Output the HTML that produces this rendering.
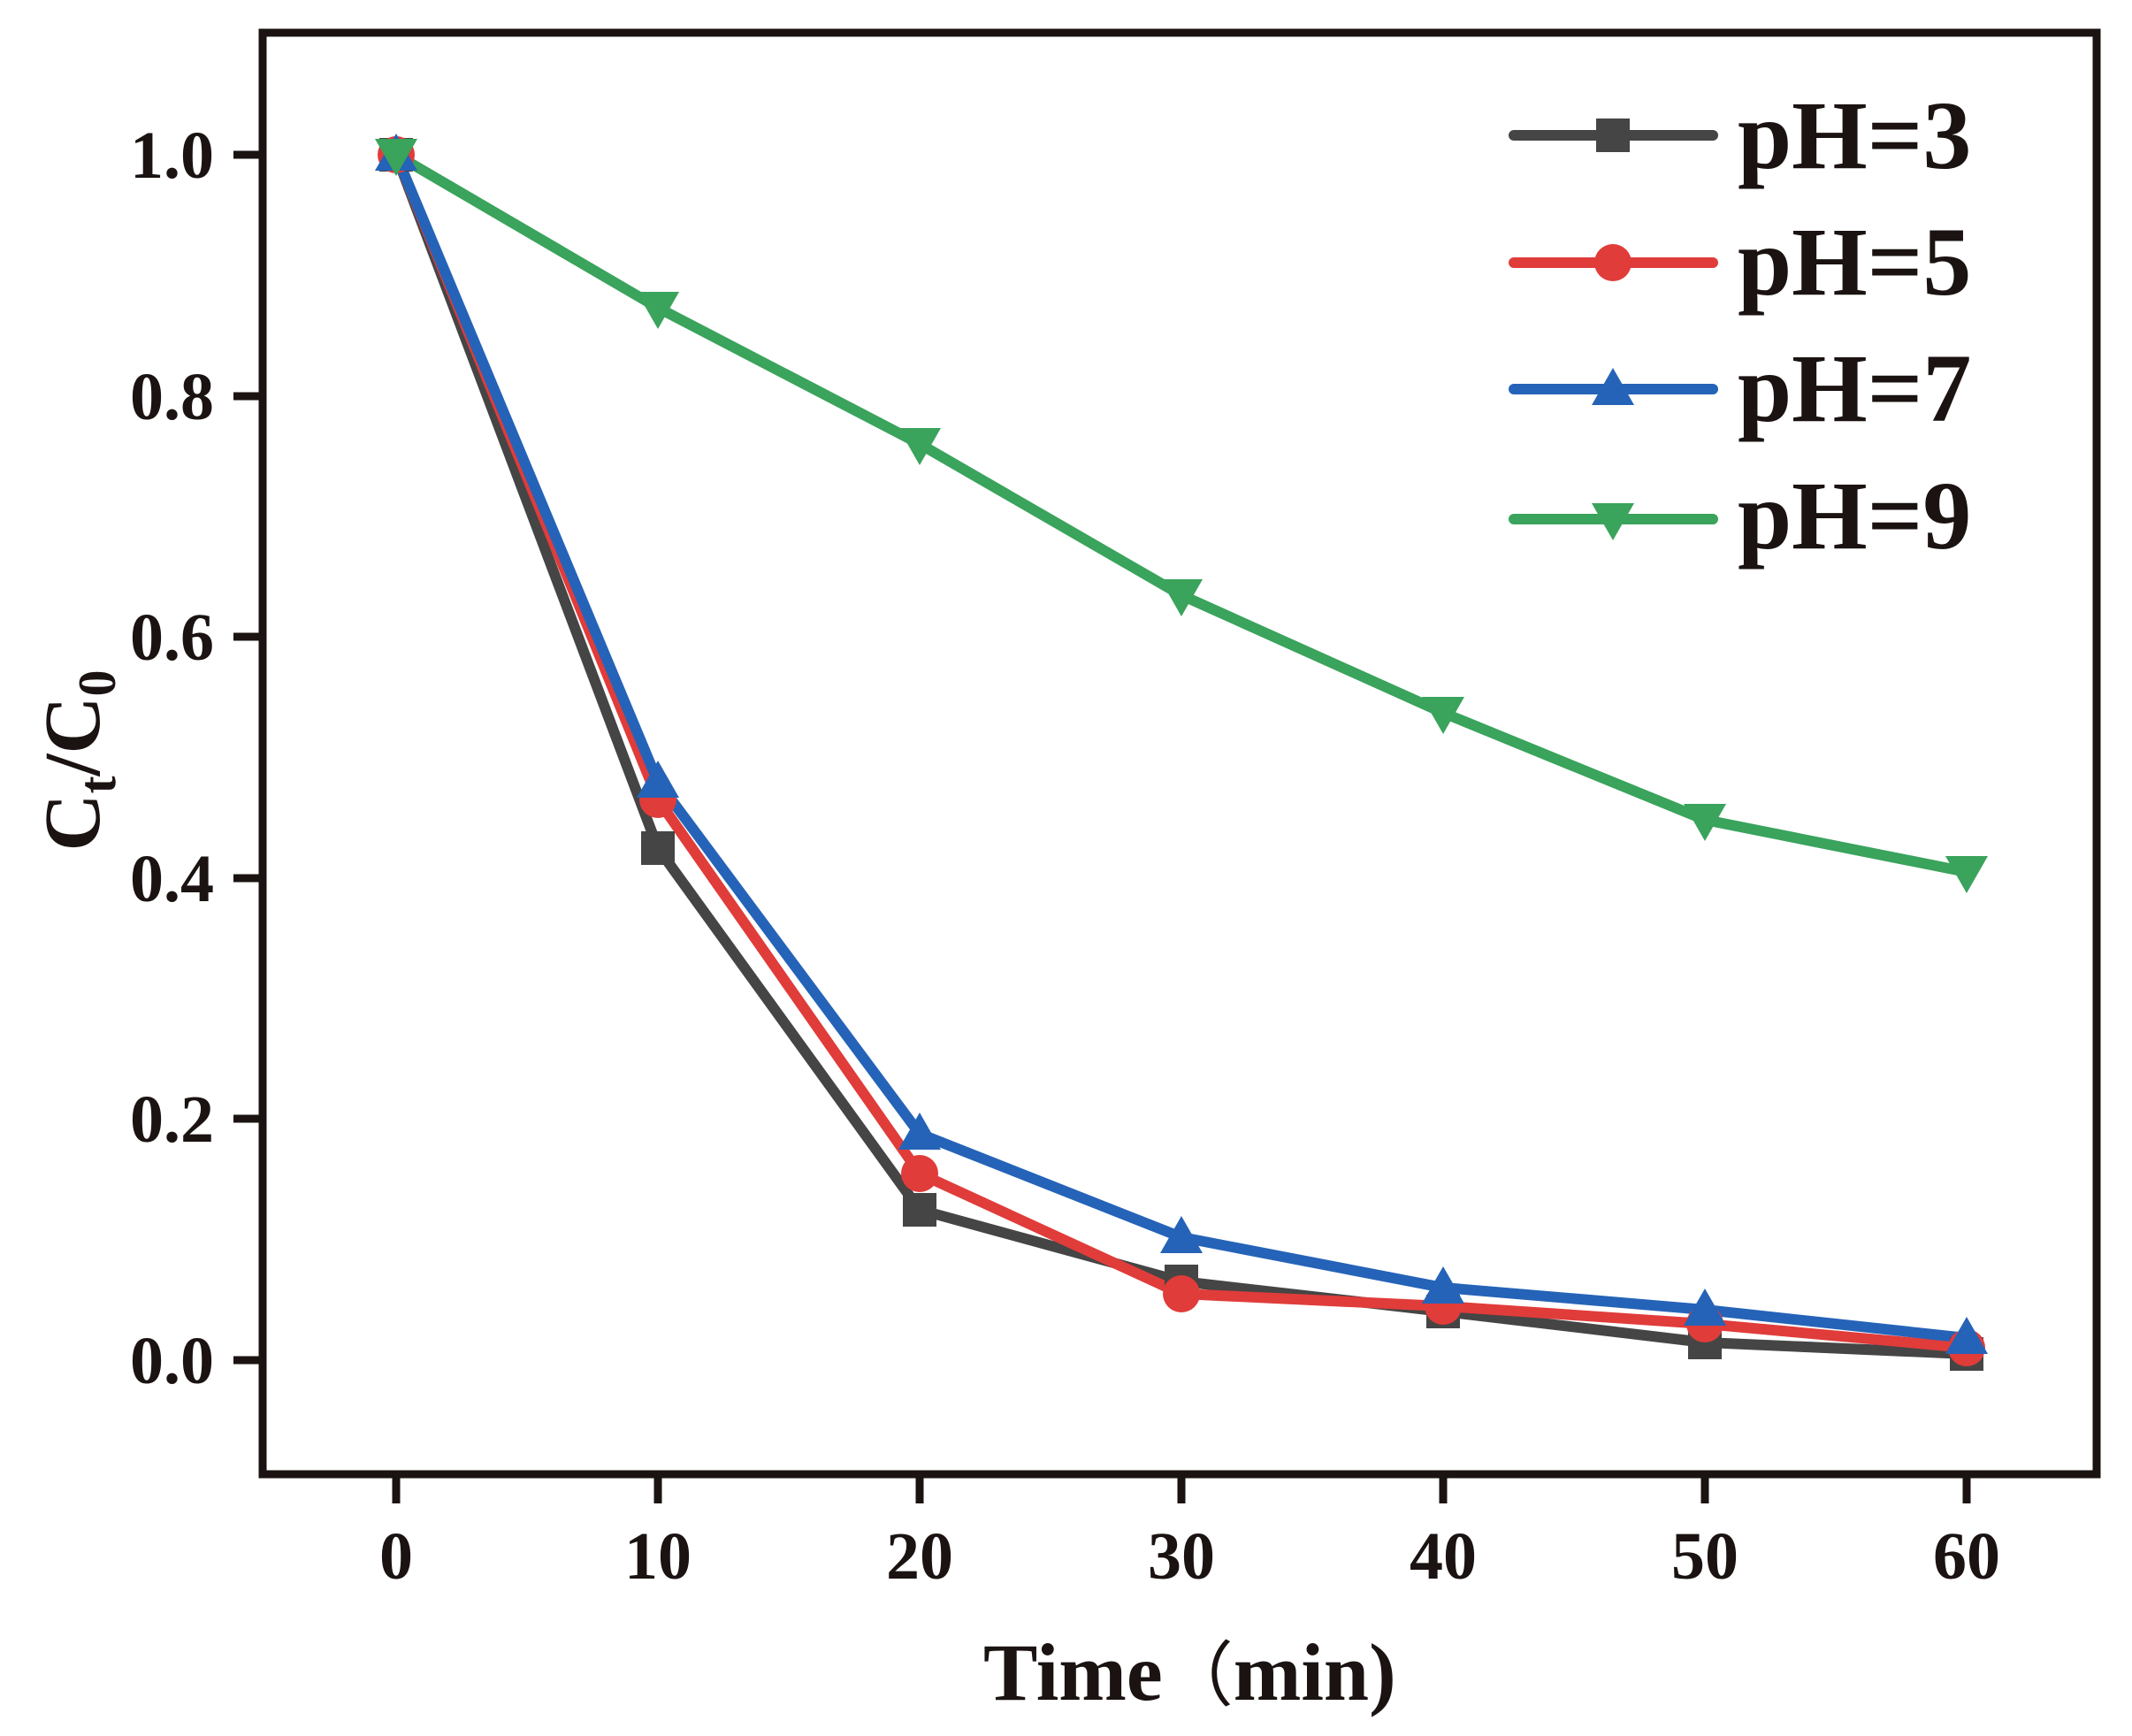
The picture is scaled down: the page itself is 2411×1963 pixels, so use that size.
<!DOCTYPE html>
<html><head><meta charset="utf-8"><style>html,body{margin:0;padding:0;background:#fff}svg{display:block}</style></head>
<body>
<svg width="2411" height="1963" viewBox="0 0 2411 1963" xmlns="http://www.w3.org/2000/svg">
<rect width="2411" height="1963" fill="#fff"/>
<g font-family="Liberation Serif, serif" font-weight="bold" fill="#1a1311">
<g stroke="#1a1311" stroke-width="9">
<line x1="264" y1="1538" x2="297" y2="1538"/>
<line x1="264" y1="1265" x2="297" y2="1265"/>
<line x1="264" y1="993" x2="297" y2="993"/>
<line x1="264" y1="720" x2="297" y2="720"/>
<line x1="264" y1="448" x2="297" y2="448"/>
<line x1="264" y1="175" x2="297" y2="175"/>
<line x1="448" y1="1670" x2="448" y2="1700"/>
<line x1="744" y1="1670" x2="744" y2="1700"/>
<line x1="1040" y1="1670" x2="1040" y2="1700"/>
<line x1="1336" y1="1670" x2="1336" y2="1700"/>
<line x1="1632" y1="1670" x2="1632" y2="1700"/>
<line x1="1928" y1="1670" x2="1928" y2="1700"/>
<line x1="2224" y1="1670" x2="2224" y2="1700"/>
</g>
<rect x="297" y="37" width="2074" height="1630" fill="none" stroke="#1a1311" stroke-width="9"/>
<g font-size="76" text-anchor="end">
<text x="242" y="1564">0.0</text>
<text x="242" y="1291">0.2</text>
<text x="242" y="1019">0.4</text>
<text x="242" y="746">0.6</text>
<text x="242" y="474">0.8</text>
<text x="242" y="201">1.0</text>
</g>
<g font-size="76" text-anchor="middle">
<text x="448" y="1785">0</text>
<text x="744" y="1785">10</text>
<text x="1040" y="1785">20</text>
<text x="1336" y="1785">30</text>
<text x="1632" y="1785">40</text>
<text x="1928" y="1785">50</text>
<text x="2224" y="1785">60</text>
</g>
<text x="1112" y="1922" font-size="92">Time<tspan font-family="Noto Sans CJK SC, sans-serif" font-weight="normal" font-size="80">（</tspan>min)</text>
<text transform="translate(112,860) rotate(-90)" font-size="90" text-anchor="middle">C<tspan font-size="60" dy="18">t</tspan><tspan dy="-18">/C</tspan><tspan font-size="60" dy="18">0</tspan></text>
<g font-size="110">
<text x="1965" y="190">pH=3</text>
<text x="1965" y="333">pH=5</text>
<text x="1965" y="476">pH=7</text>
<text x="1965" y="620">pH=9</text>
</g>
</g>
<g fill="none" stroke-width="12" stroke-linejoin="round" stroke-linecap="round">
<polyline stroke="#454545" points="448,175 744,959 1040,1368 1336,1449 1632,1483 1928,1518 2224,1531"/>
<polyline stroke="#e03c3a" points="448,175 744,904 1040,1327 1336,1463 1632,1477 1928,1497 2224,1524"/>
<polyline stroke="#2563b8" points="448,175 744,884 1040,1282 1336,1399 1632,1456 1928,1481 2224,1513"/>
<polyline stroke="#3aa35c" points="448,175 744,348 1040,502 1336,673 1632,806 1928,927 2224,986"/>
<line stroke="#454545" x1="1712" y1="153" x2="1937" y2="153"/>
<line stroke="#e03c3a" x1="1712" y1="297" x2="1937" y2="297"/>
<line stroke="#2563b8" x1="1712" y1="440" x2="1937" y2="440"/>
<line stroke="#3aa35c" x1="1712" y1="587" x2="1937" y2="587"/>
</g>
<g fill="#454545">
<rect x="429" y="156" width="38" height="38"/><rect x="725" y="940" width="38" height="38"/><rect x="1021" y="1349" width="38" height="38"/><rect x="1317" y="1430" width="38" height="38"/><rect x="1613" y="1464" width="38" height="38"/><rect x="1909" y="1499" width="38" height="38"/><rect x="2205" y="1512" width="38" height="38"/>
<rect x="1805" y="134" width="38" height="38"/>
</g>
<g fill="#e03c3a">
<circle cx="448" cy="175" r="21"/><circle cx="744" cy="904" r="21"/><circle cx="1040" cy="1327" r="21"/><circle cx="1336" cy="1463" r="21"/><circle cx="1632" cy="1477" r="21"/><circle cx="1928" cy="1497" r="21"/><circle cx="2224" cy="1524" r="21"/>
<circle cx="1824" cy="297" r="21"/>
</g>
<g fill="#2563b8">
<polygon points="448,151 472,193 424,193"/><polygon points="744,860 768,902 720,902"/><polygon points="1040,1258 1064,1300 1016,1300"/><polygon points="1336,1375 1360,1417 1312,1417"/><polygon points="1632,1432 1656,1474 1608,1474"/><polygon points="1928,1457 1952,1499 1904,1499"/><polygon points="2224,1489 2248,1531 2200,1531"/>
<polygon points="1824,416 1848,458 1800,458"/>
</g>
<g fill="#3aa35c">
<polygon points="448,199 472,157 424,157"/><polygon points="744,372 768,330 720,330"/><polygon points="1040,526 1064,484 1016,484"/><polygon points="1336,697 1360,655 1312,655"/><polygon points="1632,830 1656,788 1608,788"/><polygon points="1928,951 1952,909 1904,909"/><polygon points="2224,1010 2248,968 2200,968"/>
<polygon points="1824,611 1848,569 1800,569"/>
</g>
</svg>
</body></html>
